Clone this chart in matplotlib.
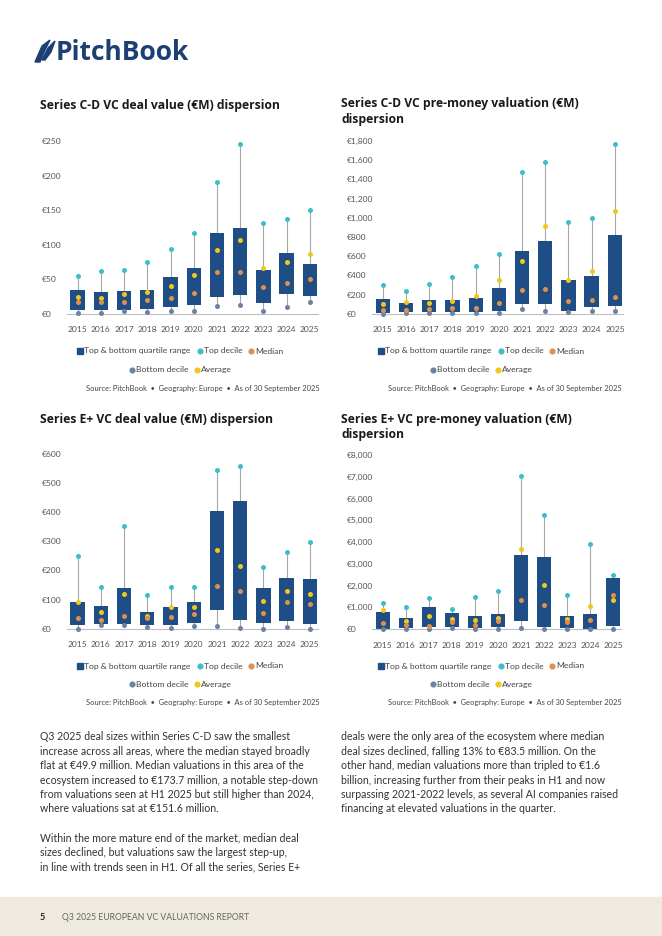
import matplotlib
matplotlib.use("Agg")
import matplotlib.pyplot as plt
from matplotlib.lines import Line2D
from matplotlib.patches import Polygon, Rectangle

W, H = 662, 936

years = [str(y) for y in range(2015, 2026)]

# Series C-D VC deal value (EUR M)
cd_deal_q1 = [5.8, 5.8, 5.8, 7.2, 10, 13.5, 25, 27.9, 16.3, 29.3, 26.4]
cd_deal_q3 = [34.6, 31.7, 33, 34.6, 53.4, 66.8, 116.8, 124, 63.5, 88, 72]
cd_deal_p10 = [2, 2, 4, 3, 4, 5, 11.5, 12.5, 4.3, 10.6, 16.8]
cd_deal_p90 = [55, 62, 63, 75, 93.8, 117, 191, 245, 132, 138, 150]
cd_deal_median = [17, 17, 17, 20.7, 22.6, 31, 61, 61, 39.4, 44.2, 49.9]
cd_deal_avg = [24.5, 23.5, 29, 32, 41, 57, 92.8, 106.7, 66.8, 75, 86.5]

# Series C-D VC pre-money valuation (EUR M)
cd_val_q1 = [10, 17, 14, 14, 21, 31, 97, 97, 28, 73, 83]
cd_val_q3 = [153, 111, 142, 142, 163, 271, 653, 757, 351, 393, 820]
cd_val_p10 = [0, 3, 7, 7, 10, 10, 45, 31, 14, 24, 31]
cd_val_p90 = [302, 236, 306, 379, 500, 625, 1473, 1581, 956, 994, 1765]
cd_val_median = [35, 38, 49, 56, 56, 108, 243, 254, 132, 139, 173.7]
cd_val_avg = [104, 122, 115, 135, 184, 347, 549, 910, 354, 445, 1070]

# Series E+ VC deal value (EUR M)
e_deal_q1 = [13.7, 17, 16, 13.7, 11.4, 19.4, 64, 31, 18, 26, 17]
e_deal_q3 = [92.6, 76.6, 140.6, 58, 75, 92.6, 403, 438, 139, 172.6, 170]
e_deal_p10 = [0, 13.7, 11.4, 5.7, 1, 9, 9, 3.4, 0, 4.6, 0]
e_deal_p90 = [249, 143, 352, 115, 143, 144, 545, 558, 212, 263, 296]
e_deal_median = [35, 28.6, 44.6, 37.7, 40, 49, 147, 128, 55, 91, 83.5]
e_deal_avg = [91, 57, 118, 44.6, 75, 74, 270, 215, 94, 129, 118]

# Series E+ VC pre-money valuation (EUR M)
e_val_q1 = [15, 30, 77, 107, 61, 107, 368, 92, 30, 15, 153]
e_val_q3 = [766, 490, 996, 720, 598, 690, 3387, 3310, 582, 690, 2330]
e_val_p10 = [0, 15, 15, 30, 0, 15, 46, 0, 0, 15, 0]
e_val_p90 = [1195, 996, 1410, 904, 1456, 1762, 7019, 5257, 1579, 3893, 2498]
e_val_median = [291, 169, 153, 322, 199, 368, 1318, 1119, 306, 398, 1563]
e_val_avg = [858, 368, 582, 444, 398, 521, 3678, 2023, 475, 1073, 1333]

NAVY = "#1f4e86"
TEAL = "#3dbfcb"
ORANGE = "#e0904c"
GREY_BLUE = "#6d82a3"
YELLOW = "#f2c71b"
WHISKER = "#a6a6a6"
TICK = "#555555"
BODY = "#333333"

plt.rcParams["font.family"] = ["Lato", "DejaVu Sans"]


def fx(px):
    return px / W


def fy(py):
    return 1 - py / H


def draw_panel(fig, box, q1, q3, p10, p90, med, avg, ymax, step):
    left, top, right, bottom = box
    ax = fig.add_axes([fx(left), fy(bottom), (right - left) / W, (bottom - top) / H])
    x = list(range(len(years)))
    heights = [b - a for a, b in zip(q1, q3)]
    ax.vlines(x, p10, p90, color=WHISKER, lw=0.8, zorder=1)
    ax.bar(x, heights, bottom=q1, width=0.62, color=NAVY, zorder=2)
    ax.scatter(x, p90, s=13, color=TEAL, zorder=3, lw=0)
    ax.scatter(x, p10, s=13, color=GREY_BLUE, zorder=3, lw=0, clip_on=False)
    ax.scatter(x, avg, s=13, color=YELLOW, zorder=4, lw=0)
    ax.scatter(x, med, s=13, color=ORANGE, zorder=5, lw=0)
    ax.set_xlim(-0.47, 10.35)
    ax.set_ylim(0, ymax)
    ax.set_xticks(x)
    ax.set_xticklabels(years)
    ticks = list(range(0, ymax + 1, step))
    ax.set_yticks(ticks)
    ax.set_yticklabels(["€{:,}".format(t) for t in ticks])
    for s in ["top", "right", "left"]:
        ax.spines[s].set_visible(False)
    ax.spines["bottom"].set_color("#bfbfbf")
    ax.spines["bottom"].set_linewidth(0.8)
    ax.tick_params(axis="both", length=0, labelsize=6.1, colors=TICK)
    ax.tick_params(axis="x", pad=9)
    ax.tick_params(axis="y", pad=18)
    for lab in ax.get_yticklabels():
        lab.set_ha("left")
    return ax


def add_legend(fig, cx, y1, y2):
    h1 = [
        Line2D([], [], marker="s", ls="none", color=NAVY, markersize=4.2),
        Line2D([], [], marker="o", ls="none", color=TEAL, markersize=3.4),
        Line2D([], [], marker="o", ls="none", color=ORANGE, markersize=3.4),
    ]
    h2 = [
        Line2D([], [], marker="o", ls="none", color=GREY_BLUE, markersize=3.4),
        Line2D([], [], marker="o", ls="none", color=YELLOW, markersize=3.4),
    ]
    kw = dict(loc="center", frameon=False, fontsize=6.1, handletextpad=0.05,
              columnspacing=0.6, handlelength=0.9, borderpad=0, borderaxespad=0,
              labelcolor="#444444")
    fig.legend(h1, ["Top & bottom quartile range", "Top decile", "Median"],
               bbox_to_anchor=(fx(cx), fy(y1)), ncol=3, **kw)
    fig.legend(h2, ["Bottom decile", "Average"],
               bbox_to_anchor=(fx(cx), fy(y2)), ncol=2, **kw)


def add_source(fig, xr, y):
    fig.text(fx(xr), fy(y), "Source: PitchBook  •  Geography: Europe  •  As of 30 September 2025",
             ha="right", va="center", fontsize=5.4, color="#444444")


fig = plt.figure(figsize=(W / 100, H / 100), dpi=100)

# logo
logo = "#1c3f74"
fig.patches.append(Polygon([(fx(35), fy(62)), (fx(42), fy(46)), (fx(50), fy(40)),
                            (fx(45), fy(50)), (fx(40), fy(62))],
                           closed=True, color=logo, transform=fig.transFigure))
fig.patches.append(Polygon([(fx(42), fy(60)), (fx(48), fy(48)), (fx(55), fy(41)),
                            (fx(51), fy(52)), (fx(45), fy(60))],
                           closed=True, color=logo, transform=fig.transFigure))
fig.text(fx(56), fy(52), "PitchBook", fontsize=19, fontweight="bold",
         family=["Open Sans", "DejaVu Sans"], color=logo, va="center", ha="left")

title_kw = dict(fontsize=8.7, fontweight="bold", family=["Open Sans", "DejaVu Sans"],
                color="#1a1a1a", ha="left", va="center")
fig.text(fx(40), fy(105), "Series C-D VC deal value (€M) dispersion", **title_kw)
fig.text(fx(341), fy(112), "Series C-D VC pre-money valuation (€M)\ndispersion",
         linespacing=1.3, **title_kw)
fig.text(fx(40), fy(420), "Series E+ VC deal value (€M) dispersion", **title_kw)
fig.text(fx(341), fy(427), "Series E+ VC pre-money valuation (€M)\ndispersion",
         linespacing=1.3, **title_kw)

draw_panel(fig, (66.7, 141, 318, 314), cd_deal_q1, cd_deal_q3, cd_deal_p10,
           cd_deal_p90, cd_deal_median, cd_deal_avg, 250, 50)
draw_panel(fig, (372, 141, 623, 313.7), cd_val_q1, cd_val_q3, cd_val_p10,
           cd_val_p90, cd_val_median, cd_val_avg, 1800, 200)
draw_panel(fig, (66.7, 453.7, 318, 628.7), e_deal_q1, e_deal_q3, e_deal_p10,
           e_deal_p90, e_deal_median, e_deal_avg, 600, 100)
draw_panel(fig, (372, 455, 621, 629), e_val_q1, e_val_q3, e_val_p10,
           e_val_p90, e_val_median, e_val_avg, 8000, 1000)

add_legend(fig, 180, 351, 370)
add_legend(fig, 481, 351, 370)
add_legend(fig, 180, 666, 684.5)
add_legend(fig, 481, 666, 684.5)
add_source(fig, 320, 388.5)
add_source(fig, 622, 388.5)
add_source(fig, 320, 703)
add_source(fig, 622, 703)

left_text = [
    "Q3 2025 deal sizes within Series C-D saw the smallest",
    "increase across all areas, where the median stayed broadly",
    "flat at €49.9 million. Median valuations in this area of the",
    "ecosystem increased to €173.7 million, a notable step-down",
    "from valuations seen at H1 2025 but still higher than 2024,",
    "where valuations sat at €151.6 million.",
    "",
    "Within the more mature end of the market, median deal",
    "sizes declined, but valuations saw the largest step-up,",
    "in line with trends seen in H1. Of all the series, Series E+",
]
right_text = [
    "deals were the only area of the ecosystem where median",
    "deal sizes declined, falling 13% to €83.5 million. On the",
    "other hand, median valuations more than tripled to €1.6",
    "billion, increasing further from their peaks in H1 and now",
    "surpassing 2021-2022 levels, as several AI companies raised",
    "financing at elevated valuations in the quarter.",
]
for i, line in enumerate(left_text):
    fig.text(fx(40), fy(737 + i * 14.4), line, fontsize=7.6, color=BODY, va="center")
for i, line in enumerate(right_text):
    fig.text(fx(341), fy(737 + i * 14.4), line, fontsize=7.6, color=BODY, va="center")

# footer band
fig.patches.append(Rectangle((0, 0), 1, fy(897), color="#efeae0",
                             transform=fig.transFigure, zorder=0))
fig.text(fx(40), fy(917), "5", fontsize=6.5, fontweight="bold", color="#222222", va="center")
fig.text(fx(62), fy(917), "Q3 2025 EUROPEAN VC VALUATIONS REPORT", fontsize=6.2,
         color="#666666", va="center")

fig.savefig("out.png", dpi=100)
